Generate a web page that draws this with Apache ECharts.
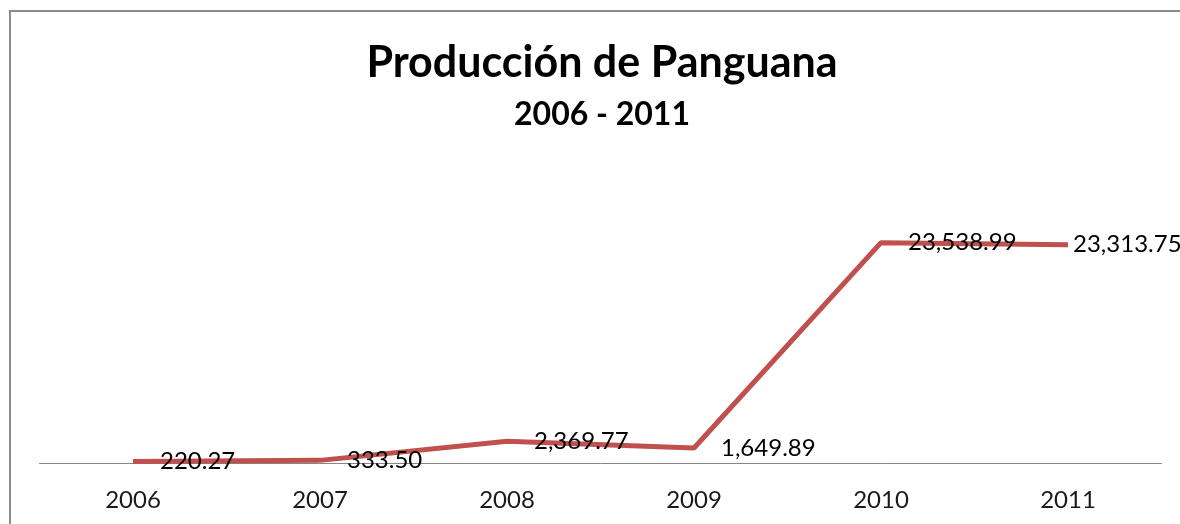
<!DOCTYPE html>
<html>
<head>
<meta charset="utf-8">
<script src="https://cdn.jsdelivr.net/npm/echarts@6/dist/echarts.min.js"></script>
<style>
  html, body { margin: 0; padding: 0; background: #fff; }
  #chart { width: 1180px; height: 524px; }
</style>
</head>
<body>
<div id="chart"></div>
<script>
const titleText = 'Producción de Panguana';
const subtitleText = '2006 - 2011';
const categories = ['2006', '2007', '2008', '2009', '2010', '2011'];
const produccion = [220.27, 333.50, 2369.77, 1649.89, 23538.99, 23313.75];

const fmt = v => v.toLocaleString('en-US', { minimumFractionDigits: 2, maximumFractionDigits: 2 });
const FONT = 'Lato, "Open Sans", sans-serif';

const chart = echarts.init(document.getElementById('chart'), null, { renderer: 'canvas' });
chart.setOption({
  backgroundColor: '#ffffff',
  animation: false,
  title: [
    { text: titleText, left: 597, top: 37, textAlign: 'center',
      textStyle: { fontFamily: FONT, fontWeight: 'bold', fontSize: 43, color: '#000' } },
    { text: subtitleText, left: 597, top: 94, textAlign: 'center',
      textStyle: { fontFamily: FONT, fontWeight: 'bold', fontSize: 32, color: '#000' } }
  ],
  graphic: [
    { type: 'rect', silent: true, z: 100,
      shape: { x: 10, y: 11, width: 1300, height: 700 },
      style: { fill: 'none', stroke: '#8c8c8c', lineWidth: 2 } }
  ],
  grid: { left: 39.5, width: 1122, top: 182, bottom: 60.5, containLabel: false },
  xAxis: {
    type: 'category',
    data: categories,
    boundaryGap: true,
    axisLine: { show: true, lineStyle: { color: '#868686', width: 1 } },
    axisTick: { show: false },
    axisLabel: { margin: 25, fontFamily: FONT, fontSize: 24, color: '#1a1a1a' },
    splitLine: { show: false }
  },
  yAxis: {
    type: 'value', min: 0, max: 30000, show: false,
    splitLine: { show: false }
  },
  series: [{
    type: 'line',
    data: produccion.map((v, i) => i === produccion.length - 1
      ? { value: v, label: { distance: 5 } }
      : v),
    showSymbol: true,
    symbol: 'circle',
    symbolSize: 0.01,
    lineStyle: { color: '#C0504D', width: 5 },
    itemStyle: { color: '#C0504D' },
    label: {
      show: true, position: 'right', distance: 27, offset: [0, 2],
      formatter: p => fmt(p.value),
      fontFamily: FONT, fontSize: 24, color: '#000'
    },
    labelLayout: { hideOverlap: false }
  }]
});
</script>
</body>
</html>
